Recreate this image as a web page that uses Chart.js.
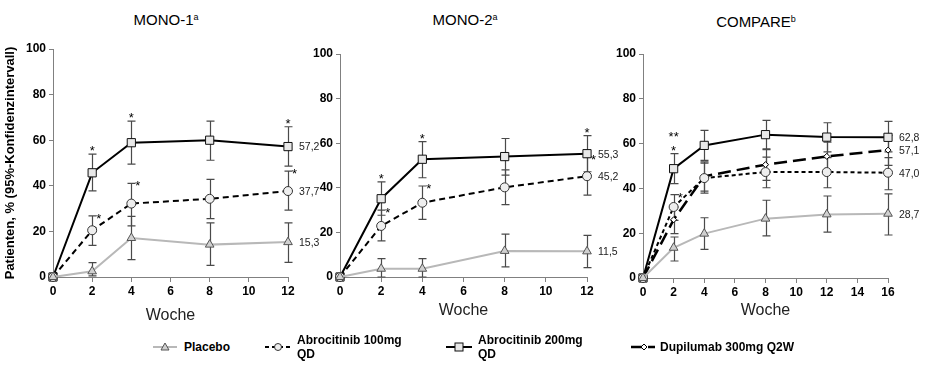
<!DOCTYPE html>
<html><head><meta charset="utf-8">
<script src="https://cdn.jsdelivr.net/npm/chart.js@4.4.1/dist/chart.umd.min.js"></script>
<style>
body{margin:0;width:928px;height:375px;background:#fff;position:relative;overflow:hidden;font-family:"Liberation Sans",Arial,sans-serif}
canvas{position:absolute;top:0}
.title{position:absolute;top:9px;font-size:15px;line-height:17px;color:#000;transform:translateX(-50%);white-space:nowrap}
.title sup{font-size:9px;vertical-align:5px}
.lg{position:absolute;font-family:"Liberation Sans Narrow","Liberation Sans",Arial,sans-serif;font-weight:bold;font-size:12px;line-height:14px;color:#000;white-space:nowrap}
svg{position:absolute}
</style></head><body>
<div class="title" style="left:166px">MONO-1<sup>a</sup></div>
<div class="title" style="left:465px">MONO-2<sup>a</sup></div>
<div class="title" style="left:756px;top:11px">COMPARE<sup>b</sup></div>
<canvas id="c1" width="320" height="330" style="left:0"></canvas>
<canvas id="c2" width="320" height="330" style="left:300px"></canvas>
<canvas id="c3" width="318" height="330" style="left:610px"></canvas>

<svg style="left:152px;top:340px" width="26" height="14"><line x1="1" y1="7" x2="25" y2="7" stroke="#b8b8b8" stroke-width="2"/><polygon points="13,3 17,10 9,10" fill="#d0d0d0" stroke="#555" stroke-width="1"/></svg>
<div class="lg" style="left:184px;top:340px">Placebo</div>
<svg style="left:264px;top:340px" width="28" height="14"><line x1="1" y1="7" x2="27" y2="7" stroke="#000" stroke-width="2" stroke-dasharray="4,3"/><circle cx="14" cy="7" r="3.5" fill="#eee" stroke="#333"/></svg>
<div class="lg" style="left:297px;top:333px">Abrocitinib 100mg<br>QD</div>
<svg style="left:445px;top:340px" width="28" height="14"><line x1="1" y1="7" x2="27" y2="7" stroke="#000" stroke-width="2"/><rect x="10" y="3" width="8" height="8" fill="#e8e8e8" stroke="#111"/></svg>
<div class="lg" style="left:478px;top:333px">Abrocitinib 200mg<br>QD</div>
<svg style="left:630px;top:340px" width="26" height="14"><line x1="1" y1="7" x2="25" y2="7" stroke="#000" stroke-width="2.5" stroke-dasharray="12,5"/><polygon points="14,4 17,7 14,10 11,7" fill="#fff" stroke="#000"/></svg>
<div class="lg" style="left:660px;top:340px">Dupilumab 300mg Q2W</div>

<script>
// ---------- DATA ----------
const weeksMono = [0, 2, 4, 8, 12];
const weeksCompare = [0, 2, 4, 8, 12, 16];
const yTicks = [0, 20, 40, 60, 80, 100];

// MONO-1
const m1Placebo   = [0, 2.5, 17.1, 14.2, 15.3];
const m1PlaceboLo = [0, 0.5, 7.6, 5.1, 6.4];
const m1PlaceboHi = [0, 6.3, 26.6, 23.7, 23.7];
const m1A100      = [0, 20.5, 32.2, 34.3, 37.7];
const m1A100Lo    = [0, 13.9, 22.4, 25.6, 29.3];
const m1A100Hi    = [0, 26.8, 41.1, 42.8, 46.4];
const m1A200      = [0, 45.7, 58.9, 60.0, 57.2];
const m1A200Lo    = [0, 37.8, 49.5, 51.2, 48.6];
const m1A200Hi    = [0, 53.9, 68.4, 68.4, 65.9];
const m1Sig100    = ['', '*', '*', '', '*'];
const m1Sig200    = ['', '*', '*', '', '*'];

// MONO-2
const m2Placebo   = [0, 3.7, 3.7, 11.7, 11.5];
const m2PlaceboLo = [0, 0, 0, 4.5, 4.2];
const m2PlaceboHi = [0, 8.2, 8.2, 19.2, 18.7];
const m2A100      = [0, 22.9, 33.3, 40.2, 45.2];
const m2A100Lo    = [0, 16.2, 25.8, 32.5, 36.7];
const m2A100Hi    = [0, 30.0, 40.8, 48.0, 53.6];
const m2A200      = [0, 35.1, 52.8, 54.0, 55.3];
const m2A200Lo    = [0, 27.7, 44.5, 45.7, 47.2];
const m2A200Hi    = [0, 42.7, 60.7, 62.1, 63.4];
const m2Sig100    = ['', '*', '*', '', '*'];
const m2Sig200    = ['', '*', '*', '', '*'];

// COMPARE
const cPlacebo   = [0, 13.5, 19.8, 26.5, 28.4, 28.7];
const cPlaceboLo = [0, 7.6, 12.8, 18.8, 20.5, 19.2];
const cPlaceboHi = [0, 18.3, 26.9, 34.7, 36.6, 37.6];
const cA100      = [0, 31.7, 44.6, 47.3, 47.3, 47.0];
const cA100Lo    = [0, 25.7, 37.9, 40.3, 40.3, 39.4];
const cA100Hi    = [0, 37.2, 51.3, 54.0, 53.7, 53.7];
const cA200      = [0, 48.8, 59.2, 64.0, 62.9, 62.8];
const cA200Lo    = [0, 42.1, 52.5, 57.3, 56.3, 56.3];
const cA200Hi    = [0, 55.5, 65.9, 70.4, 69.3, 69.9];
const cDupi      = [0, 26.0, 45.4, 50.6, 54.3, 57.1];
const cDupiLo    = [0, 19.8, 38.8, 43.6, 47.3, 50.3];
const cDupiHi    = [0, 31.7, 51.8, 57.7, 60.7, 63.7];
const cSig100    = ['', '*', '', '', '', ''];
const cSig200    = ['', '**\n*', '', '', '', ''];

// ---------- STYLES ----------
const FONT = '"Liberation Sans", Arial, sans-serif';
function pts(weeks, vals){ return weeks.map((w,i)=>({x:w, y:vals[i]})); }
function placeboDs(w, v, lo, hi){ return {data:pts(w,v), lo, hi, endLabel:true,
  borderColor:'#b8b8b8', borderWidth:2, pointStyle:'triangle', pointRadius:5,
  pointBackgroundColor:'#d0d0d0', pointBorderColor:'#555', pointBorderWidth:1}; }
function a100Ds(w, v, lo, hi, sig, dash){ return {data:pts(w,v), lo, hi, sig, sigPos:'right', endLabel:true,
  borderColor:'#000', borderWidth:2, borderDash:dash||[6,4], pointStyle:'circle', pointRadius:4.5,
  pointBackgroundColor:'#eee', pointBorderColor:'#333', pointBorderWidth:1}; }
function a200Ds(w, v, lo, hi, sig){ return {data:pts(w,v), lo, hi, sig, sigPos:'above', endLabel:true,
  borderColor:'#000', borderWidth:2, pointStyle:'rect', pointRadius:5.8,
  pointBackgroundColor:'#e8e8e8', pointBorderColor:'#111', pointBorderWidth:1}; }
function dupiDs(w, v, lo, hi){ return {data:pts(w,v), lo, hi, endLabel:true,
  borderColor:'#000', borderWidth:2.5, borderDash:[13,6], pointStyle:'rectRot', pointRadius:3,
  pointBackgroundColor:'#fff', pointBorderColor:'#000', pointBorderWidth:1}; }

const errPlugin = {
  id:'errbars',
  beforeDatasetsDraw(chart){
    const ctx = chart.ctx, xs = chart.scales.x, ys = chart.scales.y;
    ctx.save(); ctx.strokeStyle = '#4a4a4a'; ctx.lineWidth = 1.2; ctx.setLineDash([]);
    chart.data.datasets.forEach(ds=>{
      if(!ds.lo) return;
      ds.data.forEach((p,j)=>{
        const lo = ds.lo[j], hi = ds.hi[j];
        if(lo === hi) return;
        const x = Math.round(xs.getPixelForValue(p.x))+0.5;
        const y1 = ys.getPixelForValue(lo), y2 = ys.getPixelForValue(hi);
        ctx.beginPath();
        ctx.moveTo(x,y1); ctx.lineTo(x,y2);
        ctx.moveTo(x-4,y1); ctx.lineTo(x+4,y1);
        ctx.moveTo(x-4,y2); ctx.lineTo(x+4,y2);
        ctx.stroke();
      });
    });
    ctx.restore();
  },
  afterDatasetsDraw(chart){
    const ctx = chart.ctx, xs = chart.scales.x, ys = chart.scales.y;
    ctx.save();
    chart.data.datasets.forEach(ds=>{
      if(ds.sig){
        ctx.fillStyle = '#000'; ctx.font = '13px ' + FONT; ctx.textBaseline = 'alphabetic';
        ds.data.forEach((p,j)=>{
          const s = ds.sig[j]; if(!s) return;
          const x = xs.getPixelForValue(p.x), yh = ys.getPixelForValue(ds.hi[j]);
          const lines = s.split('\n');
          if(ds.sigPos === 'above'){
            ctx.textAlign = 'center';
            lines.forEach((t,k)=> ctx.fillText(t, x, yh + 1 - (lines.length-1-k)*14));
          } else {
            ctx.textAlign = 'left';
            lines.forEach((t,k)=> ctx.fillText(t, x + 4, yh + 7 - (lines.length-1-k)*14));
          }
        });
      }
      if(ds.endLabel){
        const p = ds.data[ds.data.length-1];
        ctx.fillStyle = '#222'; ctx.font = '10.5px ' + FONT; ctx.textAlign = 'left'; ctx.textBaseline = 'middle';
        ctx.fillText(p.y.toFixed(1).replace('.', ','), xs.getPixelForValue(p.x) + 11, ys.getPixelForValue(p.y) + 1);
      }
    });
    ctx.restore();
  }
};

function makeChart(id, datasets, xmax, cfg){
  return new Chart(document.getElementById(id), {
    type:'line',
    data:{datasets: datasets.map(d=>Object.assign({fill:false, tension:0, clip:false}, d))},
    plugins:[errPlugin],
    options:{
      responsive:false, animation:false, events:[],
      layout:{autoPadding:false, padding:{top:cfg.top, right:cfg.right, left:0, bottom:0}},
      plugins:{legend:{display:false}, tooltip:{enabled:false}, title:{display:false}},
      scales:{
        x:{type:'linear', min:0, max:xmax,
          afterFit:s=>{ s.height = cfg.xh; },
          afterBuildTicks:s=>{ s.ticks = s.ticks.filter(t=>t.value % 2 === 0); },
          ticks:{stepSize:2, color:'#000', font:{family:FONT, size:12, weight:'bold'}, padding:2, maxRotation:0},
          grid:{drawOnChartArea:false, drawTicks:true, tickLength:5, color:'#808080', tickColor:'#808080'},
          border:{color:'#808080', width:1},
          title:{display:true, text:'Woche', color:'#222', font:{family:FONT, size:16}, padding:{top:0, bottom:cfg.wpad}}},
        y:{type:'linear', min:0, max:100,
          afterFit:s=>{ s.width = cfg.yw; },
          afterBuildTicks:s=>{ s.ticks = yTicks.map(v=>({value:v})); },
          ticks:{color:'#000', font:{family:FONT, size:12, weight:'bold'}, padding:3},
          grid:{drawOnChartArea:false, drawTicks:true, tickLength:4, color:'#808080', tickColor:'#808080'},
          border:{color:'#808080', width:1},
          title:{display:!!cfg.ytitle, text:cfg.ytitle||'', color:'#000', font:{family:FONT, size:13, weight:'bold'}, padding:{top:3, bottom:0}}}
      }
    }
  });
}

makeChart('c1', [
  placeboDs(weeksMono, m1Placebo, m1PlaceboLo, m1PlaceboHi),
  a100Ds(weeksMono, m1A100, m1A100Lo, m1A100Hi, m1Sig100),
  a200Ds(weeksMono, m1A200, m1A200Lo, m1A200Hi, m1Sig200)
], 12, {top:49, right:32, xh:53, yw:53, wpad:5, ytitle:'Patienten, % (95%-Konfidenzintervall)'});

makeChart('c2', [
  placeboDs(weeksMono, m2Placebo, m2PlaceboLo, m2PlaceboHi),
  a100Ds(weeksMono, m2A100, m2A100Lo, m2A100Hi, m2Sig100),
  a200Ds(weeksMono, m2A200, m2A200Lo, m2A200Hi, m2Sig200)
], 12, {top:54, right:33, xh:53, yw:40, wpad:10});

makeChart('c3', [
  placeboDs(weeksCompare, cPlacebo, cPlaceboLo, cPlaceboHi),
  a100Ds(weeksCompare, cA100, cA100Lo, cA100Hi, cSig100, [4,3]),
  a200Ds(weeksCompare, cA200, cA200Lo, cA200Hi, cSig200),
  dupiDs(weeksCompare, cDupi, cDupiLo, cDupiHi)
], 16, {top:54, right:40, xh:52, yw:33, wpad:10});
</script>
</body></html>
